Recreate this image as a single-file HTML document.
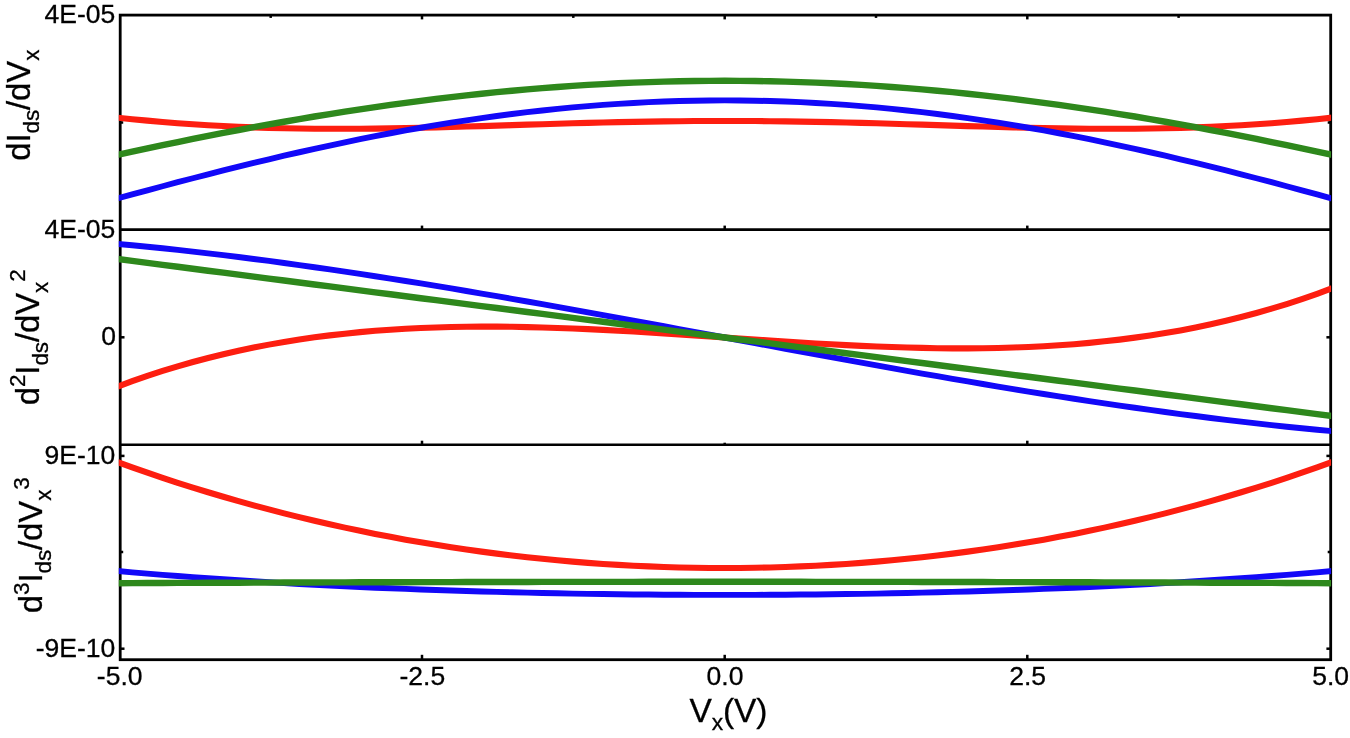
<!DOCTYPE html>
<html lang="en"><head><meta charset="utf-8"><title>Vx derivative plots</title>
<style>
html,body{margin:0;padding:0;background:#fff;}
body{width:1350px;height:738px;overflow:hidden;}
svg{display:block;filter:blur(0.45px);}
text{font-family:"Liberation Sans",Arial,Helvetica,sans-serif;fill:#000;stroke:#000;stroke-width:0.3px;}
.t{font-size:26.5px;}
.L{font-size:33px;letter-spacing:-0.12px;}
.s{font-size:22.5px;}
</style></head><body>
<svg width="1350" height="738" viewBox="0 0 1350 738">
<rect width="1350" height="738" fill="#fff"/>
<defs>
<clipPath id="c1"><rect x="118.8" y="15.1" width="1212.3" height="214.5"/></clipPath>
<clipPath id="c2"><rect x="118.8" y="229.6" width="1212.3" height="215.1"/></clipPath>
<clipPath id="c3"><rect x="118.8" y="444.7" width="1212.3" height="215.00000000000006"/></clipPath>
</defs>
<g fill="none" stroke="#000" stroke-width="2.8">
<rect x="120.2" y="15.1" width="1210.5" height="644.6"/>
</g>
<g stroke="#000" stroke-width="2.6">
<line x1="120.2" x2="1330.7" y1="229.6" y2="229.6"/>
<line x1="120.2" x2="1330.7" y1="444.7" y2="444.7"/>
</g>
<g stroke="#000" stroke-width="2.5">
<line x1="422.0" x2="422.0" y1="15.1" y2="19.4"/>
<line x1="422.0" x2="422.0" y1="229.6" y2="225.6"/>
<line x1="422.0" x2="422.0" y1="444.7" y2="440.7"/>
<line x1="422.0" x2="422.0" y1="659.7" y2="654.8000000000001"/>
<line x1="724.7" x2="724.7" y1="15.1" y2="19.4"/>
<line x1="724.7" x2="724.7" y1="229.6" y2="225.6"/>
<line x1="724.7" x2="724.7" y1="444.7" y2="442.7"/>
<line x1="724.7" x2="724.7" y1="659.7" y2="654.8000000000001"/>
<line x1="1027.3" x2="1027.3" y1="15.1" y2="19.4"/>
<line x1="1027.3" x2="1027.3" y1="229.6" y2="225.6"/>
<line x1="1027.3" x2="1027.3" y1="444.7" y2="440.7"/>
<line x1="1027.3" x2="1027.3" y1="659.7" y2="654.8000000000001"/>
<line x1="270.7" x2="270.7" y1="15.1" y2="17.9"/>
<line x1="573.3" x2="573.3" y1="15.1" y2="17.9"/>
<line x1="876.0" x2="876.0" y1="15.1" y2="17.9"/>
<line x1="1178.6" x2="1178.6" y1="15.1" y2="17.9"/>
<line x1="120.2" x2="124.5" y1="337.3" y2="337.3"/>
<line x1="1330.7" x2="1326.4" y1="337.3" y2="337.3"/>
<line x1="120.2" x2="124.5" y1="455.9" y2="455.9"/>
<line x1="1330.7" x2="1326.4" y1="455.9" y2="455.9"/>
<line x1="120.2" x2="123.2" y1="552.0" y2="552.0"/>
<line x1="1330.7" x2="1327.7" y1="552.0" y2="552.0"/>
<line x1="120.2" x2="124.5" y1="648.7" y2="648.7"/>
<line x1="1330.7" x2="1326.4" y1="648.7" y2="648.7"/>
<line x1="120.2" x2="123.2" y1="122.5" y2="122.5"/>
<line x1="1330.7" x2="1327.7" y1="122.5" y2="122.5"/>
</g>
<g clip-path="url(#c1)" fill="none" stroke-width="6.1" stroke-linejoin="round">
<path d="M117.0,117.64 L132.2,119.19 L147.4,120.63 L162.6,121.96 L177.7,123.17 L192.9,124.25 L208.1,125.22 L223.3,126.06 L238.5,126.79 L253.7,127.40 L268.9,127.89 L284.1,128.28 L299.3,128.56 L314.5,128.74 L329.7,128.82 L344.9,128.82 L360.0,128.74 L375.2,128.59 L390.4,128.37 L405.6,128.09 L420.8,127.76 L436.0,127.39 L451.2,126.98 L466.4,126.55 L481.6,126.09 L496.8,125.62 L512.0,125.14 L527.2,124.67 L542.3,124.20 L557.5,123.74 L572.7,123.31 L587.9,122.89 L603.1,122.51 L618.3,122.16 L633.5,121.85 L648.7,121.58 L663.9,121.36 L679.1,121.18 L694.3,121.05 L709.5,120.98 L724.7,120.95 L739.8,120.98 L755.0,121.05 L770.2,121.18 L785.4,121.36 L800.6,121.58 L815.8,121.85 L831.0,122.16 L846.2,122.51 L861.4,122.89 L876.6,123.31 L891.8,123.74 L907.0,124.20 L922.1,124.67 L937.3,125.14 L952.5,125.62 L967.7,126.09 L982.9,126.55 L998.1,126.98 L1013.3,127.39 L1028.5,127.76 L1043.7,128.09 L1058.9,128.37 L1074.1,128.59 L1089.3,128.74 L1104.4,128.82 L1119.6,128.82 L1134.8,128.74 L1150.0,128.56 L1165.2,128.28 L1180.4,127.89 L1195.6,127.40 L1210.8,126.79 L1226.0,126.06 L1241.2,125.22 L1256.4,124.25 L1271.6,123.17 L1286.7,121.96 L1301.9,120.63 L1317.1,119.19 L1332.3,117.64" stroke="#fd1e10" stroke-width="6.1"/>
<path d="M117.0,198.56 L132.2,194.41 L147.4,190.31 L162.6,186.24 L177.7,182.22 L192.9,178.25 L208.1,174.33 L223.3,170.47 L238.5,166.68 L253.7,162.96 L268.9,159.31 L284.1,155.74 L299.3,152.25 L314.5,148.85 L329.7,145.54 L344.9,142.32 L360.0,139.20 L375.2,136.18 L390.4,133.26 L405.6,130.45 L420.8,127.76 L436.0,125.17 L451.2,122.70 L466.4,120.35 L481.6,118.12 L496.8,116.02 L512.0,114.04 L527.2,112.19 L542.3,110.46 L557.5,108.87 L572.7,107.41 L587.9,106.09 L603.1,104.90 L618.3,103.85 L633.5,102.94 L648.7,102.16 L663.9,101.53 L679.1,101.04 L694.3,100.68 L709.5,100.47 L724.7,100.40 L739.8,100.47 L755.0,100.68 L770.2,101.04 L785.4,101.53 L800.6,102.16 L815.8,102.94 L831.0,103.85 L846.2,104.90 L861.4,106.09 L876.6,107.41 L891.8,108.87 L907.0,110.46 L922.1,112.19 L937.3,114.04 L952.5,116.02 L967.7,118.12 L982.9,120.35 L998.1,122.70 L1013.3,125.17 L1028.5,127.76 L1043.7,130.45 L1058.9,133.26 L1074.1,136.18 L1089.3,139.20 L1104.4,142.32 L1119.6,145.54 L1134.8,148.85 L1150.0,152.25 L1165.2,155.74 L1180.4,159.31 L1195.6,162.96 L1210.8,166.68 L1226.0,170.47 L1241.2,174.33 L1256.4,178.25 L1271.6,182.22 L1286.7,186.24 L1301.9,190.31 L1317.1,194.41 L1332.3,198.56" stroke="#1208f8" stroke-width="5.9"/>
<path d="M117.0,154.88 L132.2,151.59 L147.4,148.36 L162.6,145.17 L177.7,142.03 L192.9,138.95 L208.1,135.92 L223.3,132.95 L238.5,130.05 L253.7,127.21 L268.9,124.43 L284.1,121.73 L299.3,119.09 L314.5,116.53 L329.7,114.04 L344.9,111.63 L360.0,109.31 L375.2,107.06 L390.4,104.89 L405.6,102.81 L420.8,100.81 L436.0,98.91 L451.2,97.09 L466.4,95.36 L481.6,93.72 L496.8,92.18 L512.0,90.73 L527.2,89.38 L542.3,88.12 L557.5,86.96 L572.7,85.90 L587.9,84.93 L603.1,84.07 L618.3,83.31 L633.5,82.64 L648.7,82.08 L663.9,81.62 L679.1,81.26 L694.3,81.01 L709.5,80.85 L724.7,80.80 L739.8,80.85 L755.0,81.01 L770.2,81.26 L785.4,81.62 L800.6,82.08 L815.8,82.64 L831.0,83.31 L846.2,84.07 L861.4,84.93 L876.6,85.90 L891.8,86.96 L907.0,88.12 L922.1,89.38 L937.3,90.73 L952.5,92.18 L967.7,93.72 L982.9,95.36 L998.1,97.09 L1013.3,98.91 L1028.5,100.81 L1043.7,102.81 L1058.9,104.89 L1074.1,107.06 L1089.3,109.31 L1104.4,111.63 L1119.6,114.04 L1134.8,116.53 L1150.0,119.09 L1165.2,121.73 L1180.4,124.43 L1195.6,127.21 L1210.8,130.05 L1226.0,132.95 L1241.2,135.92 L1256.4,138.95 L1271.6,142.03 L1286.7,145.17 L1301.9,148.36 L1317.1,151.59 L1332.3,154.88" stroke="#2e881c" stroke-width="6.4"/>
</g>
<g clip-path="url(#c2)" fill="none" stroke-width="6.1" stroke-linejoin="round">
<path d="M117.0,386.79 L132.2,381.18 L147.4,375.90 L162.6,370.95 L177.7,366.31 L192.9,361.98 L208.1,357.94 L223.3,354.20 L238.5,350.74 L253.7,347.55 L268.9,344.62 L284.1,341.95 L299.3,339.53 L314.5,337.35 L329.7,335.40 L344.9,333.67 L360.0,332.15 L375.2,330.83 L390.4,329.72 L405.6,328.79 L420.8,328.04 L436.0,327.46 L451.2,327.04 L466.4,326.77 L481.6,326.65 L496.8,326.67 L512.0,326.82 L527.2,327.08 L542.3,327.46 L557.5,327.93 L572.7,328.50 L587.9,329.16 L603.1,329.89 L618.3,330.70 L633.5,331.56 L648.7,332.47 L663.9,333.42 L679.1,334.41 L694.3,335.43 L709.5,336.46 L724.7,337.50 L739.8,338.54 L755.0,339.57 L770.2,340.59 L785.4,341.58 L800.6,342.53 L815.8,343.44 L831.0,344.30 L846.2,345.11 L861.4,345.84 L876.6,346.50 L891.8,347.07 L907.0,347.54 L922.1,347.92 L937.3,348.18 L952.5,348.33 L967.7,348.35 L982.9,348.23 L998.1,347.96 L1013.3,347.54 L1028.5,346.96 L1043.7,346.21 L1058.9,345.28 L1074.1,344.17 L1089.3,342.85 L1104.4,341.33 L1119.6,339.60 L1134.8,337.65 L1150.0,335.47 L1165.2,333.05 L1180.4,330.38 L1195.6,327.45 L1210.8,324.26 L1226.0,320.80 L1241.2,317.06 L1256.4,313.02 L1271.6,308.69 L1286.7,304.05 L1301.9,299.10 L1317.1,293.82 L1332.3,288.21" stroke="#fd1e10" stroke-width="6.1"/>
<path d="M117.0,243.83 L132.2,245.25 L147.4,246.73 L162.6,248.29 L177.7,249.91 L192.9,251.59 L208.1,253.34 L223.3,255.16 L238.5,257.03 L253.7,258.95 L268.9,260.94 L284.1,262.98 L299.3,265.07 L314.5,267.21 L329.7,269.40 L344.9,271.63 L360.0,273.91 L375.2,276.24 L390.4,278.60 L405.6,281.01 L420.8,283.45 L436.0,285.93 L451.2,288.45 L466.4,290.99 L481.6,293.57 L496.8,296.18 L512.0,298.81 L527.2,301.47 L542.3,304.15 L557.5,306.85 L572.7,309.58 L587.9,312.32 L603.1,315.07 L618.3,317.85 L633.5,320.63 L648.7,323.43 L663.9,326.23 L679.1,329.04 L694.3,331.86 L709.5,334.68 L724.7,337.50 L739.8,340.32 L755.0,343.14 L770.2,345.96 L785.4,348.77 L800.6,351.57 L815.8,354.37 L831.0,357.15 L846.2,359.93 L861.4,362.68 L876.6,365.42 L891.8,368.15 L907.0,370.85 L922.1,373.53 L937.3,376.19 L952.5,378.82 L967.7,381.43 L982.9,384.01 L998.1,386.55 L1013.3,389.07 L1028.5,391.55 L1043.7,393.99 L1058.9,396.40 L1074.1,398.76 L1089.3,401.09 L1104.4,403.37 L1119.6,405.60 L1134.8,407.79 L1150.0,409.93 L1165.2,412.02 L1180.4,414.06 L1195.6,416.05 L1210.8,417.97 L1226.0,419.84 L1241.2,421.66 L1256.4,423.41 L1271.6,425.09 L1286.7,426.71 L1301.9,428.27 L1317.1,429.75 L1332.3,431.17" stroke="#1208f8" stroke-width="5.9"/>
<path d="M117.0,258.94 L132.2,260.90 L147.4,262.87 L162.6,264.83 L177.7,266.79 L192.9,268.76 L208.1,270.72 L223.3,272.69 L238.5,274.65 L253.7,276.61 L268.9,278.58 L284.1,280.54 L299.3,282.51 L314.5,284.47 L329.7,286.43 L344.9,288.40 L360.0,290.36 L375.2,292.33 L390.4,294.29 L405.6,296.25 L420.8,298.22 L436.0,300.18 L451.2,302.15 L466.4,304.11 L481.6,306.07 L496.8,308.04 L512.0,310.00 L527.2,311.97 L542.3,313.93 L557.5,315.90 L572.7,317.86 L587.9,319.82 L603.1,321.79 L618.3,323.75 L633.5,325.72 L648.7,327.68 L663.9,329.64 L679.1,331.61 L694.3,333.57 L709.5,335.54 L724.7,337.50 L739.8,339.46 L755.0,341.43 L770.2,343.39 L785.4,345.36 L800.6,347.32 L815.8,349.28 L831.0,351.25 L846.2,353.21 L861.4,355.18 L876.6,357.14 L891.8,359.10 L907.0,361.07 L922.1,363.03 L937.3,365.00 L952.5,366.96 L967.7,368.93 L982.9,370.89 L998.1,372.85 L1013.3,374.82 L1028.5,376.78 L1043.7,378.75 L1058.9,380.71 L1074.1,382.67 L1089.3,384.64 L1104.4,386.60 L1119.6,388.57 L1134.8,390.53 L1150.0,392.49 L1165.2,394.46 L1180.4,396.42 L1195.6,398.39 L1210.8,400.35 L1226.0,402.31 L1241.2,404.28 L1256.4,406.24 L1271.6,408.21 L1286.7,410.17 L1301.9,412.13 L1317.1,414.10 L1332.3,416.06" stroke="#2e881c" stroke-width="6.4"/>
</g>
<g clip-path="url(#c3)" fill="none" stroke-width="6.1" stroke-linejoin="round">
<path d="M117.0,461.99 L132.2,467.43 L147.4,472.70 L162.6,477.82 L177.7,482.79 L192.9,487.60 L208.1,492.27 L223.3,496.78 L238.5,501.14 L253.7,505.35 L268.9,509.42 L284.1,513.35 L299.3,517.12 L314.5,520.76 L329.7,524.25 L344.9,527.61 L360.0,530.82 L375.2,533.90 L390.4,536.83 L405.6,539.63 L420.8,542.30 L436.0,544.83 L451.2,547.22 L466.4,549.48 L481.6,551.61 L496.8,553.61 L512.0,555.47 L527.2,557.21 L542.3,558.81 L557.5,560.28 L572.7,561.62 L587.9,562.84 L603.1,563.92 L618.3,564.88 L633.5,565.71 L648.7,566.41 L663.9,566.98 L679.1,567.43 L694.3,567.75 L709.5,567.94 L724.7,568.00 L739.8,567.94 L755.0,567.75 L770.2,567.43 L785.4,566.98 L800.6,566.41 L815.8,565.71 L831.0,564.88 L846.2,563.92 L861.4,562.84 L876.6,561.62 L891.8,560.28 L907.0,558.81 L922.1,557.21 L937.3,555.47 L952.5,553.61 L967.7,551.61 L982.9,549.48 L998.1,547.22 L1013.3,544.83 L1028.5,542.30 L1043.7,539.63 L1058.9,536.83 L1074.1,533.90 L1089.3,530.82 L1104.4,527.61 L1119.6,524.25 L1134.8,520.76 L1150.0,517.12 L1165.2,513.35 L1180.4,509.42 L1195.6,505.35 L1210.8,501.14 L1226.0,496.78 L1241.2,492.27 L1256.4,487.60 L1271.6,482.79 L1286.7,477.82 L1301.9,472.70 L1317.1,467.43 L1332.3,461.99" stroke="#fd1e10" stroke-width="6.1"/>
<path d="M117.0,570.99 L132.2,572.32 L147.4,573.60 L162.6,574.83 L177.7,576.01 L192.9,577.15 L208.1,578.24 L223.3,579.30 L238.5,580.31 L253.7,581.28 L268.9,582.21 L284.1,583.10 L299.3,583.95 L314.5,584.77 L329.7,585.55 L344.9,586.29 L360.0,587.00 L375.2,587.68 L390.4,588.32 L405.6,588.92 L420.8,589.50 L436.0,590.04 L451.2,590.55 L466.4,591.04 L481.6,591.49 L496.8,591.91 L512.0,592.30 L527.2,592.66 L542.3,593.00 L557.5,593.31 L572.7,593.59 L587.9,593.84 L603.1,594.06 L618.3,594.26 L633.5,594.43 L648.7,594.57 L663.9,594.69 L679.1,594.78 L694.3,594.85 L709.5,594.89 L724.7,594.90 L739.8,594.89 L755.0,594.85 L770.2,594.78 L785.4,594.69 L800.6,594.57 L815.8,594.43 L831.0,594.26 L846.2,594.06 L861.4,593.84 L876.6,593.59 L891.8,593.31 L907.0,593.00 L922.1,592.66 L937.3,592.30 L952.5,591.91 L967.7,591.49 L982.9,591.04 L998.1,590.55 L1013.3,590.04 L1028.5,589.50 L1043.7,588.92 L1058.9,588.32 L1074.1,587.68 L1089.3,587.00 L1104.4,586.29 L1119.6,585.55 L1134.8,584.77 L1150.0,583.95 L1165.2,583.10 L1180.4,582.21 L1195.6,581.28 L1210.8,580.31 L1226.0,579.30 L1241.2,578.24 L1256.4,577.15 L1271.6,576.01 L1286.7,574.83 L1301.9,573.60 L1317.1,572.32 L1332.3,570.99" stroke="#1208f8" stroke-width="5.9"/>
<path d="M117.0,583.19 L132.2,583.12 L147.4,583.05 L162.6,582.99 L177.7,582.92 L192.9,582.86 L208.1,582.80 L223.3,582.74 L238.5,582.69 L253.7,582.63 L268.9,582.58 L284.1,582.53 L299.3,582.48 L314.5,582.43 L329.7,582.39 L344.9,582.34 L360.0,582.30 L375.2,582.26 L390.4,582.22 L405.6,582.18 L420.8,582.15 L436.0,582.11 L451.2,582.08 L466.4,582.05 L481.6,582.02 L496.8,581.99 L512.0,581.97 L527.2,581.95 L542.3,581.92 L557.5,581.90 L572.7,581.89 L587.9,581.87 L603.1,581.86 L618.3,581.84 L633.5,581.83 L648.7,581.82 L663.9,581.81 L679.1,581.81 L694.3,581.80 L709.5,581.80 L724.7,581.80 L739.8,581.80 L755.0,581.80 L770.2,581.81 L785.4,581.81 L800.6,581.82 L815.8,581.83 L831.0,581.84 L846.2,581.86 L861.4,581.87 L876.6,581.89 L891.8,581.90 L907.0,581.92 L922.1,581.95 L937.3,581.97 L952.5,581.99 L967.7,582.02 L982.9,582.05 L998.1,582.08 L1013.3,582.11 L1028.5,582.15 L1043.7,582.18 L1058.9,582.22 L1074.1,582.26 L1089.3,582.30 L1104.4,582.34 L1119.6,582.39 L1134.8,582.43 L1150.0,582.48 L1165.2,582.53 L1180.4,582.58 L1195.6,582.63 L1210.8,582.69 L1226.0,582.74 L1241.2,582.80 L1256.4,582.86 L1271.6,582.92 L1286.7,582.99 L1301.9,583.05 L1317.1,583.12 L1332.3,583.19" stroke="#2e881c" stroke-width="6.4"/>
</g>
<text class="t" x="115.3" y="22.6" text-anchor="end">4E-05</text>
<text class="t" x="115.3" y="237.8" text-anchor="end">4E-05</text>
<text class="t" x="115.9" y="345.1" text-anchor="end">0</text>
<text class="t" x="115.3" y="464.0" text-anchor="end">9E-10</text>
<text class="t" x="115.3" y="657.0" text-anchor="end">-9E-10</text>
<text class="t" x="119.7" y="684.8" text-anchor="middle">-5.0</text>
<text class="t" x="422.3" y="684.8" text-anchor="middle">-2.5</text>
<text class="t" x="725.0" y="684.8" text-anchor="middle">0.0</text>
<text class="t" x="1027.6" y="684.8" text-anchor="middle">2.5</text>
<text class="t" x="1330.7" y="684.8" text-anchor="middle">5.0</text>
<text class="L" style="font-size:33.5px" x="689.4" y="721.5">V<tspan class="s" style="font-size:22.8px" dy="8.4">x</tspan><tspan dy="-8.4">(V)</tspan></text>
<text class="L" transform="translate(29.5,160.8) rotate(-90)">dI<tspan class="s" dy="9.2">ds</tspan><tspan dy="-9.2">/dV</tspan><tspan class="s" dy="9.2">x</tspan></text>
<text class="L" transform="translate(38.7,405.3) rotate(-90)">d<tspan class="s" dy="-14.2">2</tspan><tspan dy="14.2">I</tspan><tspan class="s" dy="9.2">ds</tspan><tspan dy="-9.2">/dV</tspan><tspan class="s" dy="9.2">x</tspan><tspan class="s" dy="-23.4">2</tspan></text>
<text class="L" transform="translate(41.7,613.2) rotate(-90)">d<tspan class="s" dy="-13.2">3</tspan><tspan dy="13.2">I</tspan><tspan class="s" dy="9.2">ds</tspan><tspan dy="-9.2">/dV</tspan><tspan class="s" dy="9.2">x</tspan><tspan class="s" dy="-22.4">3</tspan></text>
</svg></body></html>
